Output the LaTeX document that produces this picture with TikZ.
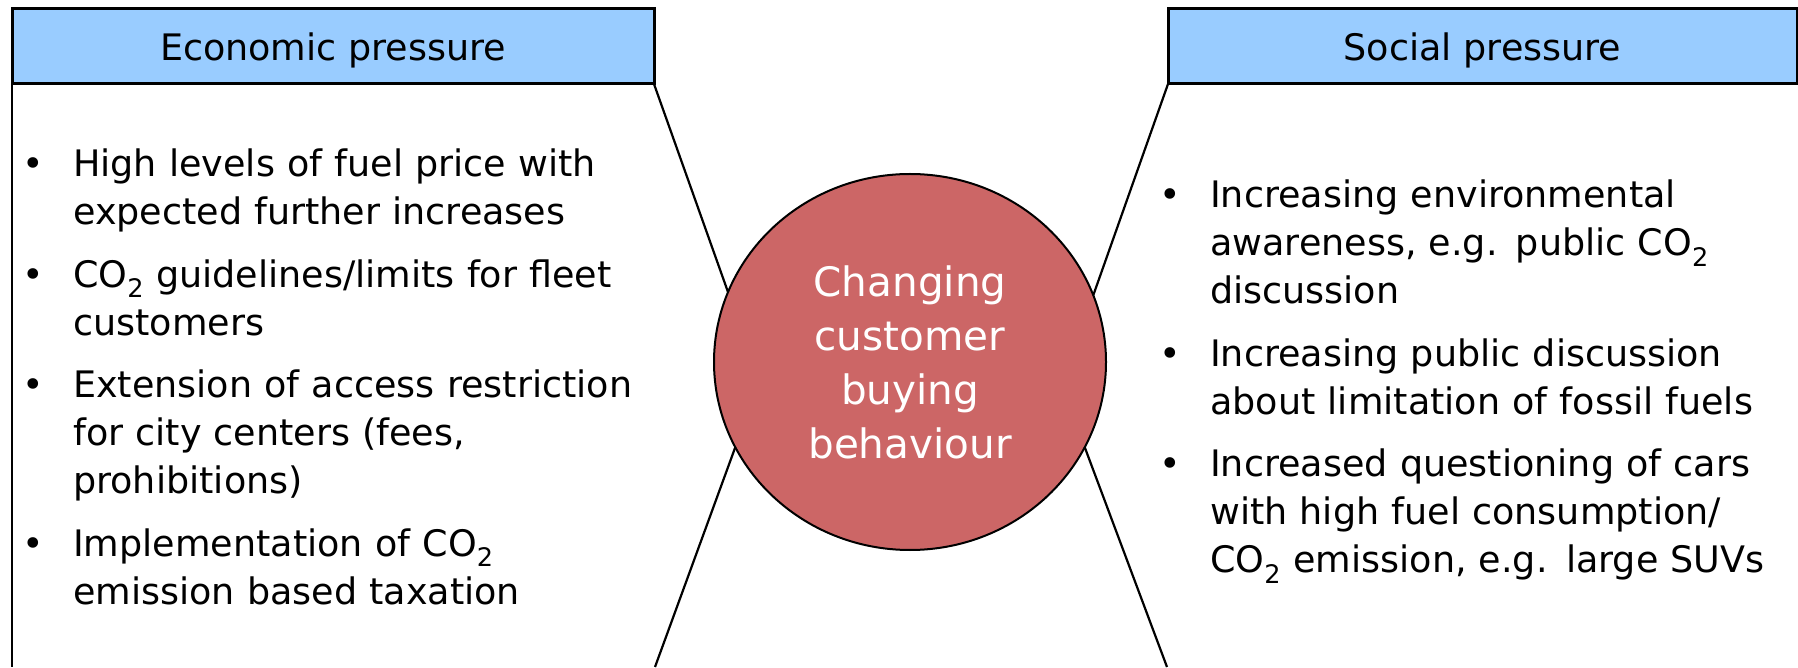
\documentclass[tikz,border=0pt]{standalone}
\usepackage{fontspec}
\setmainfont{DejaVu Sans}
\usepackage{tikz}
\definecolor{headblue}{HTML}{99CCFF}
\definecolor{hubred}{HTML}{CC6666}
\tikzstyle{head} = [rectangle, draw, fill=headblue, line width=3pt, outer sep=0pt,
    minimum height=75pt, inner sep=0pt, text depth=0pt, font=\fontsize{36.5}{44}\selectfont]
\tikzstyle{entry} = [inner sep=0pt, text width=580pt, align=left,
    font=\fontsize{36.5}{48}\selectfont, execute at begin node=\strut, execute at end node=\strut]
\tikzstyle{bulletsym} = [inner sep=0pt, font=\fontsize{36.5}{48}\selectfont]
\tikzstyle{hub} = [ellipse, draw, fill=hubred, line width=2pt, outer sep=0pt,
    minimum width=392pt, minimum height=376pt, inner sep=0pt, text=white, align=center,
    font=\fontsize{40.5}{54}\selectfont]
\tikzstyle{link} = [line width=2.2pt]
\usetikzlibrary{positioning}
\usetikzlibrary{shapes.geometric}

\begin{document}
\begin{tikzpicture}[x=1pt,y=1pt]
    \useasboundingbox (0,0) rectangle (1798,667);

    \node[head, minimum width=642pt] (econ) at (333,620.5) {Economic pressure};
    \node[head, minimum width=629pt] (soc) at (1482.5,620.5) {Social pressure};
    \node[hub] (hub) at (910,305) {Changing\\customer\\buying\\behaviour};

    \node[entry, anchor=base west] (e1) at (73,490) {High levels of fuel price with\\expected further increases};
    \node[entry, below=14pt of e1] (e2) {CO\textsubscript{2} guidelines/limits for fleet\\customers};
    \node[entry, below=14pt of e2] (e3) {Extension of access restriction\\for city centers (fees,\\prohibitions)};
    \node[entry, below=14pt of e3] (e4) {Implementation of CO\textsubscript{2}\\emission based taxation};

    \node[entry, anchor=base west] (s1) at (1210,459) {Increasing environmental\\awareness, e.g. public CO\textsubscript{2}\\discussion};
    \node[entry, below=14pt of s1] (s2) {Increasing public discussion\\about limitation of fossil fuels};
    \node[entry, below=14pt of s2] (s3) {Increased questioning of cars\\with high fuel consumption/\\CO\textsubscript{2} emission, e.g. large SUVs};

    \foreach \i in {e1,e2,e3,e4,s1,s2,s3}
        \node[bulletsym, base left=29pt of \i] (dot\i) {\textbullet};

    \coordinate (econfoot) at (12,0);
    \coordinate (lowleft) at (655,0);
    \coordinate (lowright) at (1167,0);
    \draw[link] (econ.south west) -- (econfoot);
    \draw[link] (econ.south east) -- (hub.159);
    \draw[link] (soc.south west) -- (hub.20);
    \draw[link] (hub.206) -- (lowleft);
    \draw[link] (hub.334) -- (lowright);
\end{tikzpicture}
\end{document}
